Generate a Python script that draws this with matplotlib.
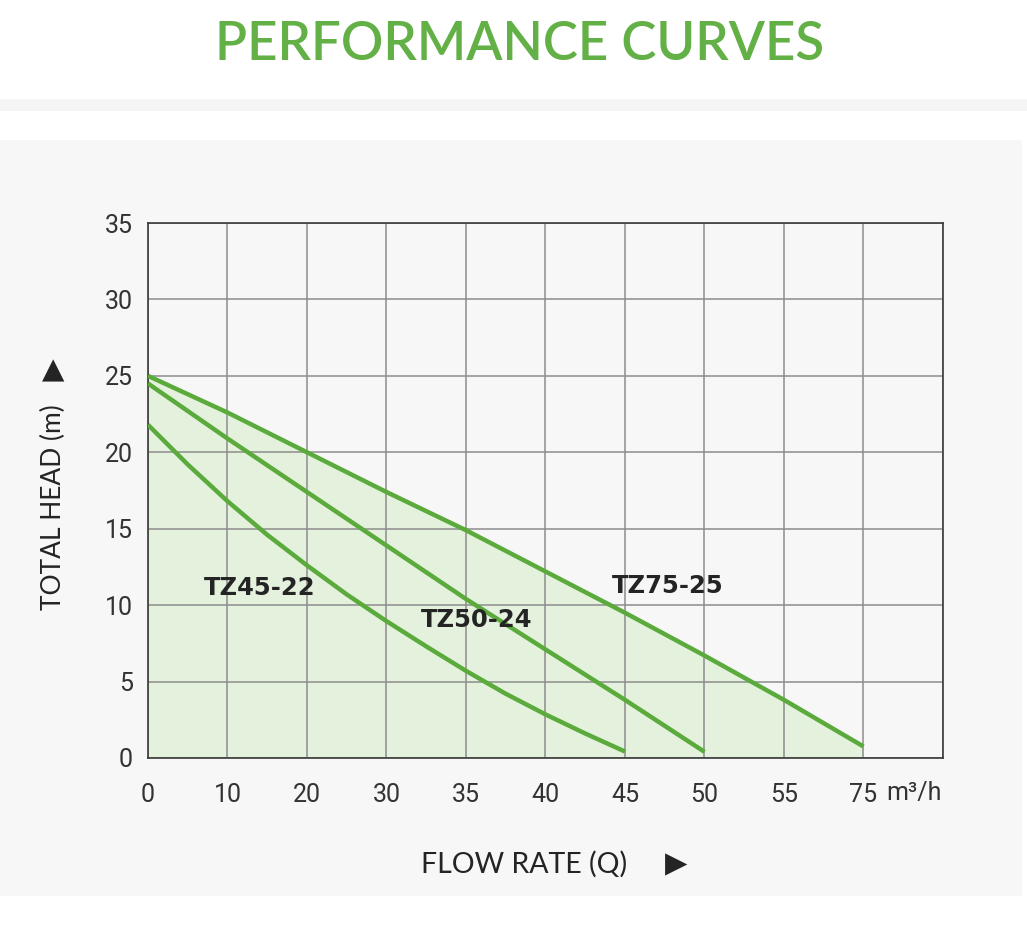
import numpy as np
import matplotlib
matplotlib.use('Agg')
import matplotlib.pyplot as plt
from matplotlib.patches import Rectangle

# flow ticks as printed on the chart (axis is not linear)
flow_ticks = [0, 10, 20, 30, 35, 40, 45, 50, 55, 75]
tick_labels = ['0', '10', '20', '30', '35', '40', '45', '50', '55', '75']
head_ticks = [0, 5, 10, 15, 20, 25, 30, 35]

# pump curves (flow m3/h, head m)
tz45_flow = [0, 5, 10, 15, 20, 25, 30, 32.5, 35, 37.5, 40, 42.5, 45]
tz45_head = [21.8, 19.2, 16.8, 14.6, 12.6, 10.7, 8.95, 7.3, 5.7, 4.2, 2.85, 1.6, 0.42]

tz50_flow = [0, 10, 20, 30, 35, 40, 45, 50]
tz50_head = [24.5, 20.9, 17.4, 13.9, 10.4, 7.1, 3.8, 0.4]

tz75_flow = [0, 10, 20, 30, 35, 40, 45, 50, 55, 75]
tz75_head = [25.0, 22.6, 20.0, 17.4, 14.9, 12.2, 9.5, 6.7, 3.8, 0.75]

green = '#5aaa3c'
dark = '#242424'

# equal spacing between printed ticks, one extra empty column at the end
scale_flow = flow_ticks + [95]
scale_pos = list(range(len(scale_flow)))

def fwd(x):
    return np.interp(x, scale_flow, scale_pos)

def inv(p):
    return np.interp(p, scale_pos, scale_flow)

fig = plt.figure(figsize=(10.27, 9.49), dpi=100, facecolor='white')

# background bands
fig.patches.append(Rectangle((0, 0.8830), 1, 0.0126, transform=fig.transFigure,
                             facecolor='#f5f5f5', edgecolor='none', zorder=-10))
fig.patches.append(Rectangle((0, 0.0558), 0.995, 0.7966, transform=fig.transFigure,
                             facecolor='#f7f7f7', edgecolor='none', zorder=-10))

fig.text(0.506, 0.9526, 'PERFORMANCE CURVES', color='#62b046', fontsize=38,
         family='Lato', fontweight='semibold', ha='center', va='center')

ax = fig.add_axes([0.1441, 0.2013, 0.7741, 0.5637])
ax.set_facecolor('#f7f7f7')
ax.set_xscale('function', functions=(fwd, inv))
ax.set_xlim(0, 95)
ax.set_ylim(0, 35)

ax.fill_between(tz75_flow, tz75_head, 0, color='#e4f1dd', zorder=0.3, linewidth=0)
ax.plot(tz45_flow, tz45_head, color=green, lw=3.2, zorder=3, solid_capstyle='butt')
ax.plot(tz50_flow, tz50_head, color=green, lw=3.2, zorder=3, solid_capstyle='butt')
ax.plot(tz75_flow, tz75_head, color=green, lw=3.2, zorder=3, solid_capstyle='butt')

ax.set_xticks(flow_ticks + [95])
ax.set_xticklabels(tick_labels + [''])
ax.set_yticks(head_ticks)
ax.set_axisbelow(True)
ax.grid(True, color='#8c8c8c', lw=1.1)
ax.tick_params(length=0, labelsize=18, labelcolor='#333333')
ax.tick_params(axis='x', pad=18)
ax.tick_params(axis='y', pad=11)
for lab in ax.get_xticklabels() + ax.get_yticklabels():
    lab.set_family('Roboto')
for s in ax.spines.values():
    s.set_color('#3a3a3a')
    s.set_linewidth(1.2)

ax.text(0.928, -0.066, 'm³/h', transform=ax.transAxes, fontsize=18, color='#333333',
        family='Roboto', ha='left', va='center')

lab_kw = dict(fontsize=17.5, color=dark, family='DejaVu Sans', fontweight='bold',
              ha='center', va='center', zorder=4)
ax.text(14.1, 11.1, 'TZ45-22', **lab_kw)
ax.text(35.7, 9.0, 'TZ50-24', **lab_kw)
ax.text(47.7, 11.25, 'TZ75-25', **lab_kw)

fig.text(0.0516, 0.466, 'TOTAL HEAD (m)', rotation=90, fontsize=19, color=dark,
         family='Lato', ha='center', va='center')
fig.text(0.0516, 0.610, '▲', fontsize=21, color=dark, ha='center', va='center')
fig.text(0.510, 0.0895, 'FLOW RATE (Q)', fontsize=20.5, color=dark,
         family='Lato', ha='center', va='center')
fig.text(0.658, 0.0895, '▶', fontsize=21, color=dark, ha='center', va='center')

plt.savefig('out.png', dpi=100, facecolor='white')
